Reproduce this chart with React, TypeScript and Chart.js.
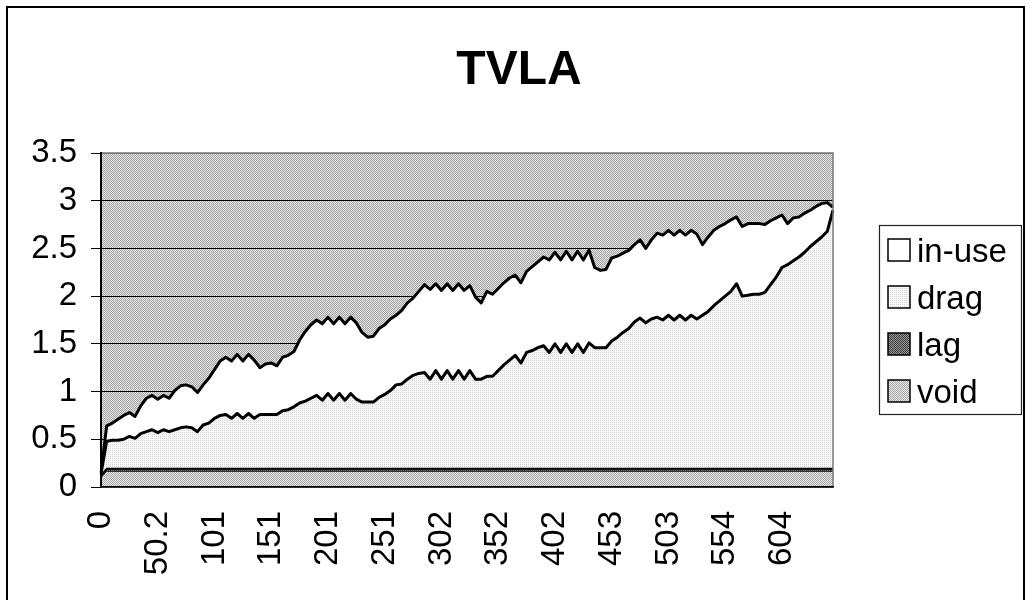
import React, { useEffect, useRef } from "react";
import { Chart, registerables } from "chart.js";

Chart.register(...registerables);

// x tick labels shown every 10th sample
const xTickLabels = ["0", "50.2", "101", "151", "201", "251", "302", "352", "402", "453", "503", "554", "604"];
const LABEL_EVERY = 10;

const seriesNames = ["void", "lag", "drag", "in-use"];

const inUse = [
  0.01, 0.16, 0.18, 0.22, 0.25, 0.25, 0.23, 0.29, 0.35, 0.36,
  0.35, 0.36, 0.35, 0.41, 0.44, 0.44, 0.43, 0.41, 0.42, 0.47,
  0.51, 0.57, 0.60, 0.60, 0.62, 0.60, 0.62, 0.61, 0.49, 0.53,
  0.54, 0.51, 0.56, 0.57, 0.58, 0.66, 0.73, 0.77, 0.79, 0.80,
  0.80, 0.80, 0.80, 0.80, 0.80, 0.80, 0.73, 0.68, 0.69, 0.72,
  0.73, 0.75, 0.73, 0.77, 0.80, 0.81, 0.86, 0.92, 0.94, 0.91,
  0.93, 0.91, 0.93, 0.91, 0.93, 0.89, 0.86, 0.80, 0.89, 0.86,
  0.86, 0.86, 0.86, 0.84, 0.84, 0.85, 0.88, 0.90, 0.93, 0.97,
  0.96, 0.97, 0.97, 0.97, 0.97, 0.97, 0.97, 0.84, 0.81, 0.82,
  0.87, 0.85, 0.83, 0.82, 0.81, 0.82, 0.78, 0.83, 0.88, 0.89,
  0.89, 0.89, 0.89, 0.89, 0.89, 0.89, 0.74, 0.78, 0.79, 0.78,
  0.76, 0.75, 0.70, 0.73, 0.75, 0.74, 0.74, 0.71, 0.67, 0.62,
  0.55, 0.43, 0.45, 0.42, 0.41, 0.38, 0.37, 0.35, 0.30, 0.03,
];

const drag = [
  0.02, 0.29, 0.30, 0.30, 0.31, 0.34, 0.32, 0.37, 0.39, 0.41,
  0.38, 0.41, 0.39, 0.41, 0.43, 0.44, 0.43, 0.39, 0.46, 0.48,
  0.53, 0.56, 0.57, 0.53, 0.58, 0.53, 0.58, 0.53, 0.57, 0.57,
  0.57, 0.57, 0.61, 0.62, 0.65, 0.69, 0.71, 0.74, 0.77, 0.72,
  0.79, 0.72, 0.79, 0.72, 0.79, 0.73, 0.70, 0.70, 0.70, 0.75,
  0.78, 0.82, 0.88, 0.89, 0.94, 0.98, 1.00, 1.01, 0.94, 1.03,
  0.94, 1.03, 0.94, 1.03, 0.94, 1.03, 0.94, 0.94, 0.97, 0.97,
  1.03, 1.09, 1.14, 1.19, 1.11, 1.22, 1.24, 1.27, 1.29, 1.22,
  1.31, 1.22, 1.31, 1.22, 1.31, 1.22, 1.32, 1.27, 1.27, 1.27,
  1.34, 1.38, 1.43, 1.47, 1.54, 1.58, 1.53, 1.57, 1.59, 1.56,
  1.61, 1.56, 1.61, 1.56, 1.61, 1.57, 1.61, 1.65, 1.71, 1.76,
  1.81, 1.86, 1.94, 1.81, 1.82, 1.83, 1.83, 1.85, 1.93, 2.01,
  2.11, 2.14, 2.18, 2.22, 2.27, 2.33, 2.38, 2.43, 2.49, 2.71,
];

const lag = [
  0.020, 0.025, 0.025, 0.025, 0.025, 0.025, 0.025, 0.025, 0.025, 0.025,
  0.025, 0.025, 0.025, 0.025, 0.025, 0.025, 0.025, 0.025, 0.025, 0.025,
  0.025, 0.025, 0.025, 0.025, 0.025, 0.025, 0.025, 0.025, 0.025, 0.025,
  0.025, 0.025, 0.025, 0.025, 0.025, 0.025, 0.025, 0.025, 0.025, 0.025,
  0.025, 0.025, 0.025, 0.025, 0.025, 0.025, 0.025, 0.025, 0.025, 0.025,
  0.025, 0.025, 0.025, 0.025, 0.025, 0.025, 0.025, 0.025, 0.025, 0.025,
  0.025, 0.025, 0.025, 0.025, 0.025, 0.025, 0.025, 0.025, 0.025, 0.025,
  0.025, 0.025, 0.025, 0.025, 0.025, 0.025, 0.025, 0.025, 0.025, 0.025,
  0.025, 0.025, 0.025, 0.025, 0.025, 0.025, 0.025, 0.025, 0.025, 0.025,
  0.025, 0.025, 0.025, 0.025, 0.025, 0.025, 0.025, 0.025, 0.025, 0.025,
  0.025, 0.025, 0.025, 0.025, 0.025, 0.025, 0.025, 0.025, 0.025, 0.025,
  0.025, 0.025, 0.025, 0.025, 0.025, 0.025, 0.025, 0.025, 0.025, 0.025,
  0.025, 0.025, 0.025, 0.025, 0.025, 0.025, 0.025, 0.025, 0.025, 0.025,
];

const voidSeries = [
  0.100, 0.165, 0.165, 0.165, 0.165, 0.165, 0.165, 0.165, 0.165, 0.165,
  0.165, 0.165, 0.165, 0.165, 0.165, 0.165, 0.165, 0.165, 0.165, 0.165,
  0.165, 0.165, 0.165, 0.165, 0.165, 0.165, 0.165, 0.165, 0.165, 0.165,
  0.165, 0.165, 0.165, 0.165, 0.165, 0.165, 0.165, 0.165, 0.165, 0.165,
  0.165, 0.165, 0.165, 0.165, 0.165, 0.165, 0.165, 0.165, 0.165, 0.165,
  0.165, 0.165, 0.165, 0.165, 0.165, 0.165, 0.165, 0.165, 0.165, 0.165,
  0.165, 0.165, 0.165, 0.165, 0.165, 0.165, 0.165, 0.165, 0.165, 0.165,
  0.165, 0.165, 0.165, 0.165, 0.165, 0.165, 0.165, 0.165, 0.165, 0.165,
  0.165, 0.165, 0.165, 0.165, 0.165, 0.165, 0.165, 0.165, 0.165, 0.165,
  0.165, 0.165, 0.165, 0.165, 0.165, 0.165, 0.165, 0.165, 0.165, 0.165,
  0.165, 0.165, 0.165, 0.165, 0.165, 0.165, 0.165, 0.165, 0.165, 0.165,
  0.165, 0.165, 0.165, 0.165, 0.165, 0.165, 0.165, 0.165, 0.165, 0.165,
  0.165, 0.165, 0.165, 0.165, 0.165, 0.165, 0.165, 0.165, 0.165, 0.165,
];

const FONT = "'Liberation Sans', Arial, Helvetica, sans-serif";

function makePattern(cells: string[][]): CanvasPattern | string {
  const c = document.createElement("canvas");
  c.width = cells[0].length;
  c.height = cells.length;
  const g = c.getContext("2d");
  if (!g) return "#ccc";
  for (let y = 0; y < cells.length; y++) {
    for (let x = 0; x < cells[y].length; x++) {
      g.fillStyle = cells[y][x];
      g.fillRect(x, y, 1, 1);
    }
  }
  const ctx = document.createElement("canvas").getContext("2d");
  return (ctx && ctx.createPattern(c, "repeat")) || "#ccc";
}

export default function App() {
  const ref = useRef<HTMLCanvasElement | null>(null);

  useEffect(() => {
    if (!ref.current) return;
    const bgPattern = makePattern([["#a4a4a4", "#e4e4e4"], ["#e4e4e4", "#a4a4a4"]]);
    const voidPattern = makePattern([["#a8a8a8", "#e8e8e8"], ["#e8e8e8", "#a8a8a8"]]);
    const lagPattern = makePattern([["#3a3a3a", "#9a9a9a"], ["#9a9a9a", "#3a3a3a"]]);
    const dragPattern = makePattern([["#d2d2d2", "#ffffff"], ["#ffffff", "#f2f2f2"]]);
    const legendFills = [
      { name: seriesNames[3], fill: "#ffffff" },
      { name: seriesNames[2], fill: dragPattern },
      { name: seriesNames[1], fill: lagPattern },
      { name: seriesNames[0], fill: voidPattern },
    ];

    const labels = inUse.map((_, i) => (i % LABEL_EVERY === 0 ? xTickLabels[i / LABEL_EVERY] ?? "" : ""));

    const decor = {
      id: "decor",
      beforeDraw(chart: any) {
        const { ctx, chartArea: a } = chart;
        ctx.save();
        ctx.fillStyle = "#ffffff";
        ctx.fillRect(0, 0, chart.width, chart.height);
        ctx.fillStyle = bgPattern;
        ctx.fillRect(a.left, a.top, a.right - a.left, a.bottom - a.top);
        ctx.restore();
      },
      afterDatasetsDraw(chart: any) {
        const { ctx, chartArea: a } = chart;
        ctx.save();
        ctx.strokeStyle = "#7a7a7a";
        ctx.lineWidth = 1.5;
        ctx.strokeRect(a.left, a.top, a.right - a.left, a.bottom - a.top);
        ctx.restore();
      },
      afterDraw(chart: any) {
        const { ctx } = chart;
        ctx.save();
        // title
        ctx.fillStyle = "#000";
        ctx.font = `bold 48px ${FONT}`;
        ctx.textAlign = "center";
        ctx.textBaseline = "alphabetic";
        ctx.fillText("TVLA", 519, 84);
        // legend box
        ctx.strokeStyle = "#222";
        ctx.lineWidth = 1.2;
        ctx.strokeRect(879.5, 225.5, 142, 189);
        const baselines = [262, 309, 356, 403];
        ctx.font = `33px ${FONT}`;
        ctx.textAlign = "left";
        legendFills.forEach((it, k) => {
          const b = baselines[k];
          ctx.fillStyle = it.fill;
          ctx.fillRect(888, b - 23, 22, 22);
          ctx.strokeStyle = "#000";
          ctx.lineWidth = 1.5;
          ctx.strokeRect(888, b - 23, 22, 22);
          ctx.fillStyle = "#000";
          ctx.fillText(it.name, 917, b);
        });
        // outer border
        ctx.strokeStyle = "#000";
        ctx.lineWidth = 2;
        ctx.strokeRect(7, 7, 1017, 600);
        ctx.restore();
      },
    };

    const common = { pointRadius: 0, tension: 0, borderColor: "#000" };

    const chart = new Chart(ref.current, {
      type: "line",
      data: {
        labels,
        datasets: [
          { ...common, label: seriesNames[0], data: voidSeries, backgroundColor: voidPattern, borderWidth: 1, fill: "origin" },
          { ...common, label: seriesNames[1], data: lag, backgroundColor: lagPattern, borderWidth: 2, fill: "-1" },
          { ...common, label: seriesNames[2], data: drag, backgroundColor: dragPattern, borderWidth: 3, fill: "-1" },
          { ...common, label: seriesNames[3], data: inUse, backgroundColor: "#ffffff", borderWidth: 3, fill: "-1" },
        ],
      },
      options: {
        animation: false,
        responsive: false,
        devicePixelRatio: 1,
        layout: { padding: { left: 0, top: 153, right: 197, bottom: 0 } },
        plugins: {
          legend: { display: false },
          title: { display: false },
          tooltip: { enabled: false },
        },
        elements: { line: { borderJoinStyle: "round" } },
        scales: {
          x: {
            type: "category",
            offset: false,
            grid: { display: false, drawTicks: false },
            border: { display: true, color: "#000", width: 1.5, z: 1 },
            ticks: {
              autoSkip: false,
              minRotation: 90,
              maxRotation: 90,
              padding: 24,
              color: "#000",
              font: { family: FONT, size: 33 },
            },
            afterFit: (s: any) => {
              s.height = 113;
            },
          },
          y: {
            stacked: true,
            min: 0,
            max: 3.5,
            ticks: {
              stepSize: 0.5,
              padding: 14,
              color: "#000",
              font: { family: FONT, size: 33 },
              callback: (v: any) => String(Number(v)),
            },
            grid: {
              color: (c: any) => (c.tick && c.tick.value === 3.5 ? "#7a7a7a" : "#000"),
              lineWidth: 1,
              drawTicks: true,
              tickLength: 10,
              tickColor: "#000",
            },
            border: { display: true, color: "#000", width: 2, z: 1 },
            afterFit: (s: any) => {
              s.width = 101;
            },
          },
        },
      },
      plugins: [decor],
    } as any);

    return () => chart.destroy();
  }, []);

  return (
    <div style={{ position: "absolute", left: 0, top: 0, width: 1030, height: 600 }}>
      <canvas ref={ref} width={1030} height={600} style={{ display: "block" }} />
    </div>
  );
}
